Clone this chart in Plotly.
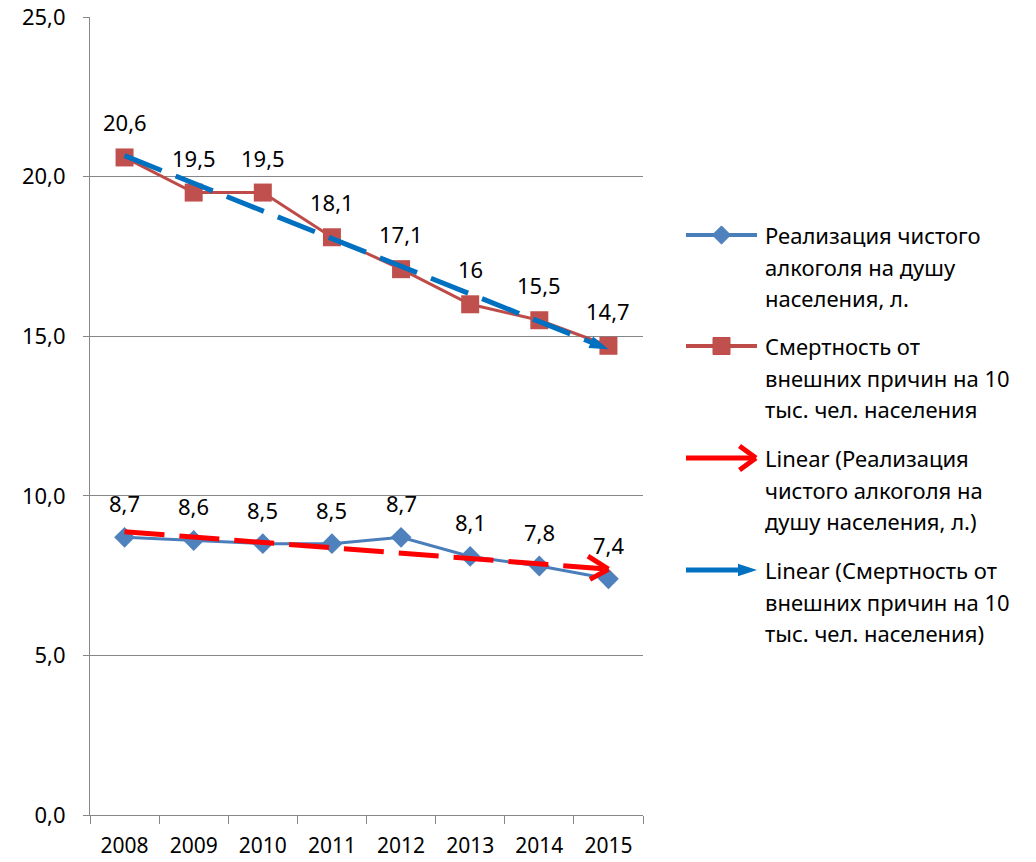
import numpy as np
import plotly.graph_objects as go

# ---------------- data ----------------
years = ["2008", "2009", "2010", "2011", "2012", "2013", "2014", "2015"]
alcohol = [8.7, 8.6, 8.5, 8.5, 8.7, 8.1, 7.8, 7.4]
mortality = [20.6, 19.5, 19.5, 18.1, 17.1, 16.0, 15.5, 14.7]
y_tick_vals = [0, 5, 10, 15, 20, 25]
y_tick_text = ["0,0", "5,0", "10,0", "15,0", "20,0", "25,0"]

legend_entries = [
    ["Реализация чистого", "алкоголя на душу", "населения, л."],
    ["Смертность от", "внешних причин на 10", "тыс. чел. населения"],
    ["Linear (Реализация", "чистого алкоголя на", "душу населения, л.)"],
    ["Linear (Смертность от", "внешних причин на 10", "тыс. чел. населения)"],
]

# Linear trendlines (least squares, as in the original "Linear" trendline)
xi = np.arange(len(years))
a_coef = np.polyfit(xi, alcohol, 1)
m_coef = np.polyfit(xi, mortality, 1)
trend_alc = [float(v) for v in np.polyval(a_coef, xi)]
trend_mort = [float(v) for v in np.polyval(m_coef, xi)]


def fmt(v):
    return f"{v:g}".replace(".", ",")


FONT = "Noto Sans"
BLUE = "#4F81BD"
BLUE_LINE = "#4A7EBB"
RED = "#C0504D"
RED_LINE = "#BE4B48"
TREND_RED = "#FF0000"
TREND_BLUE = "#0070C0"
GRID = "#878787"

fig = go.Figure()

fig.add_trace(go.Scatter(
    x=years, y=alcohol, mode="lines+markers",
    line=dict(color=BLUE_LINE, width=3),
    marker=dict(symbol="diamond", size=16, color=BLUE, opacity=1),
    showlegend=False, hoverinfo="skip"))

fig.add_trace(go.Scatter(
    x=years, y=mortality, mode="lines+markers",
    line=dict(color=RED_LINE, width=3),
    marker=dict(symbol="square", size=18, color=RED, opacity=1),
    showlegend=False, hoverinfo="skip"))

fig.add_trace(go.Scatter(
    x=years, y=trend_alc, mode="lines",
    line=dict(color=TREND_RED, width=5, dash="40px,15px"),
    showlegend=False, hoverinfo="skip"))

n = len(years)
fig.add_trace(go.Scatter(
    x=years, y=trend_mort, mode="lines+markers",
    line=dict(color=TREND_BLUE, width=5, dash="40px,15px"),
    marker=dict(symbol="arrow", angleref="previous", opacity=1,
                size=[0] * (n - 1) + [20], color=TREND_BLUE,
                line=dict(width=0)),
    showlegend=False, hoverinfo="skip"))

annotations = []
# chevron head of the red trendline (category index of the last year)
for ax_, ay_ in [(-22, -14), (-20, 11)]:
    annotations.append(dict(
        x=n - 1, y=trend_alc[-1], xref="x", yref="y", text="",
        showarrow=True, arrowhead=0, arrowwidth=5, arrowcolor=TREND_RED,
        ax=ax_, ay=ay_, standoff=0))

# data labels (x given as category index)
for i, v in enumerate(mortality):
    annotations.append(dict(x=i, y=v, xref="x", yref="y", text=fmt(v),
                            showarrow=False, yshift=35,
                            font=dict(family=FONT, size=22, color="#000")))
for i, v in enumerate(alcohol):
    annotations.append(dict(x=i, y=v, xref="x", yref="y", text=fmt(v),
                            showarrow=False, yshift=34,
                            font=dict(family=FONT, size=22, color="#000")))

# ---------------- page geometry (body margin removed below) ----------------
W, H = 1036, 862
PL, PR, PT, PB = 90, 643, 17, 815   # plot box in page pixels
ML, MT = PL, PT
MB = H - PB
MR = 2
PW = W - ML - MR
main_right = (PR - PL) / PW
LEG_X0_PAGE = 660
leg_left = (LEG_X0_PAGE - PL) / PW
LEG_X1_PAGE = PL + PW

# ---------------- custom legend (helper axis in page-pixel units) ----------------
leg_y = [235, 346, 458, 570]
line_gap = 31.5
LX0, LX1, LTX = 686, 757, 763

fig.add_trace(go.Scatter(
    x=[LX0, (LX0 + LX1) / 2, LX1], y=[leg_y[0]] * 3, xaxis="x2", yaxis="y2",
    mode="lines+markers", line=dict(color=BLUE_LINE, width=4),
    marker=dict(symbol="diamond", size=[0, 14, 0], color=BLUE, opacity=1),
    showlegend=False, hoverinfo="skip"))
fig.add_trace(go.Scatter(
    x=[LX0, (LX0 + LX1) / 2, LX1], y=[leg_y[1]] * 3, xaxis="x2", yaxis="y2",
    mode="lines+markers", line=dict(color=RED_LINE, width=4),
    marker=dict(symbol="square", size=[0, 17, 0], color=RED, opacity=1),
    showlegend=False, hoverinfo="skip"))
fig.add_trace(go.Scatter(
    x=[LX0, LX1 - 3], y=[leg_y[2]] * 2, xaxis="x2", yaxis="y2",
    mode="lines", line=dict(color=TREND_RED, width=5),
    showlegend=False, hoverinfo="skip"))
fig.add_trace(go.Scatter(
    x=[LX0, LX1], y=[leg_y[3]] * 2, xaxis="x2", yaxis="y2",
    mode="lines+markers", line=dict(color=TREND_BLUE, width=5),
    marker=dict(symbol="arrow", angleref="previous", size=[0, 20],
                color=TREND_BLUE, opacity=1, line=dict(width=0)),
    showlegend=False, hoverinfo="skip"))
for ax_, ay_ in [(-18, -13), (-18, 13)]:
    annotations.append(dict(
        x=LX1 - 1, y=leg_y[2], xref="x2", yref="y2", text="",
        showarrow=True, arrowhead=0, arrowwidth=5, arrowcolor=TREND_RED,
        ax=ax_, ay=ay_, standoff=0))

for y0, lines in zip(leg_y, legend_entries):
    for k, t in enumerate(lines):
        annotations.append(dict(
            x=LTX, y=y0 + k * line_gap, xref="x2", yref="y2", text=t,
            showarrow=False, xanchor="left", yanchor="middle",
            font=dict(family=FONT, size=22, color="#000")))

fig.update_layout(
    width=W, height=H,
    margin=dict(l=ML, r=MR, t=MT, b=MB, autoexpand=False),
    paper_bgcolor="white", plot_bgcolor="white",
    separators=", ",
    font=dict(family=FONT, color="#000"),
    annotations=annotations,
    xaxis=dict(
        type="category", domain=[0, main_right], range=[-0.5, 7.5],
        showgrid=False, showline=True, linecolor=GRID, linewidth=1,
        ticks="outside", tickson="boundaries", ticklen=8, tickcolor=GRID,
        ticklabelstandoff=12, ticklabeloverflow="allow",
        automargin=False,
        tickfont=dict(family=FONT, size=21, color="#000"), fixedrange=True),
    yaxis=dict(
        range=[0, 25], tickvals=y_tick_vals, ticktext=y_tick_text,
        showgrid=True, gridcolor=GRID, gridwidth=1, zeroline=False,
        showline=True, linecolor=GRID, linewidth=1, automargin=False,
        ticks="outside", ticklen=6, tickcolor=GRID, ticklabelstandoff=13,
        ticklabeloverflow="allow",
        tickfont=dict(family=FONT, size=22, color="#000"), fixedrange=True),
    xaxis2=dict(domain=[leg_left, 1], range=[LEG_X0_PAGE, LEG_X1_PAGE],
                anchor="y2", visible=False, fixedrange=True, automargin=False),
    yaxis2=dict(domain=[0, 1], range=[PB, PT], anchor="x2",
                visible=False, fixedrange=True, automargin=False),
)

fig.write_html(
    "out.html",
    config={"displayModeBar": False},
    post_script="document.body.style.margin='0';document.body.style.overflow='hidden';",
)
